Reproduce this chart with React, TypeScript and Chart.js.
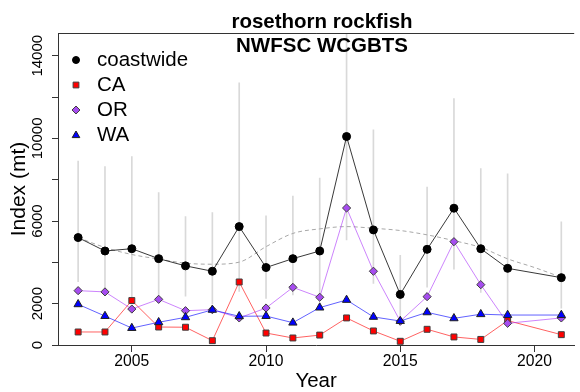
import React, { useEffect, useRef } from 'react';
import { Chart, registerables } from 'chart.js';

Chart.register(...registerables);

// ---------- data ----------
const titleLines = ['rosethorn rockfish', 'NWFSC WCGBTS'];
const xAxisTitle = 'Year';
const yAxisTitle = 'Index (mt)';

const years = [2003, 2004, 2005, 2006, 2007, 2008, 2009, 2010, 2011, 2012, 2013, 2014, 2015, 2016, 2017, 2018, 2019, 2021];
const coastwide = [5200, 4550, 4660, 4180, 3830, 3570, 5730, 3750, 4180, 4550, 10090, 5570, 2450, 4630, 6620, 4660, 3710, 3260];
const coastLow = [3060, 2410, 2330, 2360, 2360, 1990, 2590, 2250, 2420, 2500, 5090, 2980, 1390, 2800, 3670, 2540, 1670, 1780];
const coastHigh = [8900, 8630, 9120, 7380, 6210, 6410, 12690, 6250, 7210, 8080, 20000, 10410, 4340, 7640, 11930, 8540, 8280, 5960];
const caValues = [630, 630, 2150, 870, 860, 210, 3050, 580, 340, 480, 1310, 680, 180, 760, 390, 270, 1180, 500];
const orValues = [2630, 2570, 1740, 2210, 1660, 1710, 1310, 1790, 2790, 2310, 6630, 3570, 1150, 2340, 5000, 2920, 1050, 1310];
const waValues = [1970, 1400, 820, 1100, 1340, 1700, 1390, 1400, 1080, 1810, 2180, 1360, 1160, 1580, 1290, 1490, 1450, 1450];

const trendYears = [2003, 2004, 2005, 2006, 2007, 2008, 2009, 2010, 2011, 2012, 2013, 2014, 2015, 2016, 2017, 2018, 2019, 2020, 2021];
const trendValues = [5200, 4720, 4380, 4160, 3960, 3910, 4010, 4760, 5400, 5620, 5730, 5650, 5540, 5330, 5050, 4720, 4170, 3750, 3280];

const xTickValues = [2005, 2010, 2015, 2020];
const yTickValues = [0, 2000, 4000, 6000, 8000, 10000, 12000, 14000];
const yLabelValues = [0, 2000, 6000, 10000, 14000];
const legendLabels = ['coastwide', 'CA', 'OR', 'WA'];

// ---------- styles ----------
const FONT = '"Liberation Sans", Arial, Helvetica, sans-serif';
const AXIS = '#333333';
const styles = {
  coastwide: { line: 'rgba(0,0,0,0.78)', fill: '#000000', border: '#000000', shape: 'circle', r: 4.0 },
  CA: { line: 'rgba(255,0,0,0.62)', fill: '#ff0000', border: '#404040', shape: 'rect', r: 4.2 },
  OR: { line: 'rgba(170,50,250,0.6)', fill: '#a64cf0', border: '#404040', shape: 'rectRot', r: 4.1 },
  WA: { line: 'rgba(0,0,255,0.62)', fill: '#0000ff', border: '#202020', shape: 'triangle', r: 4.8 },
};

const pts = (xs: number[], ys: number[]) => xs.map((x, i) => ({ x, y: ys[i] }));

const overlayPlugin = {
  id: 'overlay',
  afterDraw(chart: any) {
    const { ctx, chartArea } = chart;
    ctx.save();
    // top border of the plot box
    ctx.strokeStyle = AXIS;
    ctx.lineWidth = 1;
    ctx.beginPath();
    ctx.moveTo(chartArea.left, Math.round(chartArea.top) + 0.5);
    ctx.lineTo(chartArea.right, Math.round(chartArea.top) + 0.5);
    ctx.stroke();

    // title
    const cx = 322;
    ctx.fillStyle = '#000';
    ctx.font = `bold 20.5px ${FONT}`;
    ctx.textAlign = 'center';
    ctx.textBaseline = 'alphabetic';
    ctx.fillText(titleLines[0], cx, 28.3);
    ctx.fillText(titleLines[1], cx, 51.7);

    // legend
    const keys = ['coastwide', 'CA', 'OR', 'WA'] as const;
    ctx.font = `20.5px ${FONT}`;
    ctx.textAlign = 'left';
    ctx.textBaseline = 'middle';
    keys.forEach((k, i) => {
      const st = (styles as any)[k];
      const y = 60 + i * 25;
      const x = 76;
      ctx.fillStyle = st.fill;
      ctx.strokeStyle = st.border;
      ctx.lineWidth = 1;
      ctx.beginPath();
      if (st.shape === 'circle') {
        ctx.arc(x, y, 3.5, 0, Math.PI * 2);
      } else if (st.shape === 'rect') {
        ctx.rect(x - 2.9, y - 2.9, 5.8, 5.8);
      } else if (st.shape === 'rectRot') {
        ctx.moveTo(x - 4, y);
        ctx.lineTo(x, y - 4);
        ctx.lineTo(x + 4, y);
        ctx.lineTo(x, y + 4);
        ctx.closePath();
      } else {
        ctx.moveTo(x, y - 4);
        ctx.lineTo(x + 3.8, y + 2.6);
        ctx.lineTo(x - 3.8, y + 2.6);
        ctx.closePath();
      }
      ctx.fill();
      ctx.stroke();
      ctx.fillStyle = '#000';
      ctx.fillText(legendLabels[i], 97, y + 0.5);
    });
    ctx.restore();
  },
};

function seriesDataset(label: string, values: number[], order: number) {
  const st = (styles as any)[label];
  return {
    type: 'line' as const,
    label,
    data: pts(years, values),
    borderColor: st.line,
    borderWidth: 1,
    pointStyle: st.shape,
    pointRadius: st.r,
    pointBackgroundColor: st.fill,
    pointBorderColor: st.border,
    pointBorderWidth: 1,
    tension: 0,
    order,
  };
}

export default function App() {
  const ref = useRef<HTMLCanvasElement>(null);

  useEffect(() => {
    document.body.style.margin = '0';
    if (!ref.current) return;
    const chart = new Chart(ref.current, {
      type: 'line',
      data: {
        datasets: [
          {
            type: 'bar',
            label: 'interval',
            data: years.map((x, i) => ({ x, y: [coastLow[i], coastHigh[i]] })) as any,
            backgroundColor: '#d9d9d9',
            borderWidth: 0,
            barThickness: 1,
            order: 10,
          } as any,
          {
            type: 'line',
            label: 'trend',
            data: pts(trendYears, trendValues),
            borderColor: '#a8a8a8',
            borderWidth: 1,
            borderDash: [4, 3],
            pointRadius: 0,
            cubicInterpolationMode: 'monotone',
            order: 9,
          } as any,
          seriesDataset('CA', caValues, 4),
          seriesDataset('OR', orValues, 3),
          seriesDataset('WA', waValues, 2),
          seriesDataset('coastwide', coastwide, 1),
        ],
      },
      options: {
        responsive: false,
        animation: false,
        events: [],
        layout: { padding: { top: 33, left: 0, right: 0, bottom: 0 } },
        plugins: {
          legend: { display: false },
          tooltip: { enabled: false },
          title: { display: false },
        },
        scales: {
          x: {
            type: 'linear',
            min: 2002.25,
            max: 2021.48,
            offset: false,
            afterBuildTicks: (s: any) => {
              s.ticks = xTickValues.map((v) => ({ value: v }));
            },
            afterFit: (s: any) => {
              s.height = 47;
            },
            grid: { display: true, drawOnChartArea: false, offset: false, tickLength: 7, tickColor: AXIS, color: AXIS },
            border: { display: true, color: AXIS, width: 1 },
            ticks: {
              autoSkip: false,
              maxRotation: 0,
              minRotation: 0,
              padding: 0,
              color: '#000',
              font: { family: FONT, size: 15.7 },
              callback: (v: any) => String(v),
            },
            title: {
              display: true,
              text: xAxisTitle,
              color: '#000',
              font: { family: FONT, size: 20.5, lineHeight: 1 },
              padding: { top: 0, bottom: 0 },
            },
          },
          y: {
            type: 'linear',
            min: 0,
            max: 15100,
            afterBuildTicks: (s: any) => {
              s.ticks = yTickValues.map((v) => ({ value: v }));
            },
            afterFit: (s: any) => {
              s.width = 58;
            },
            grid: { display: true, drawOnChartArea: false, tickLength: 6, tickColor: AXIS, color: AXIS },
            border: { display: true, color: AXIS, width: 1 },
            ticks: {
              autoSkip: false,
              minRotation: 90,
              maxRotation: 90,
              crossAlign: 'center',
              padding: -7,
              color: '#000',
              font: { family: FONT, size: 15 },
              callback: (v: any) => (yLabelValues.includes(Number(v)) ? String(v) : ''),
            },
            title: {
              display: true,
              text: yAxisTitle,
              color: '#000',
              font: { family: FONT, size: 21, lineHeight: 1 },
              padding: { top: 9, bottom: 0 },
            },
          },
        },
      } as any,
      plugins: [overlayPlugin],
    });
    return () => chart.destroy();
  }, []);

  return (
    <div style={{ position: 'absolute', left: 0, top: 0, width: 580, height: 392, background: '#fff' }}>
      <canvas ref={ref} width={580} height={392} style={{ display: 'block' }} />
    </div>
  );
}
